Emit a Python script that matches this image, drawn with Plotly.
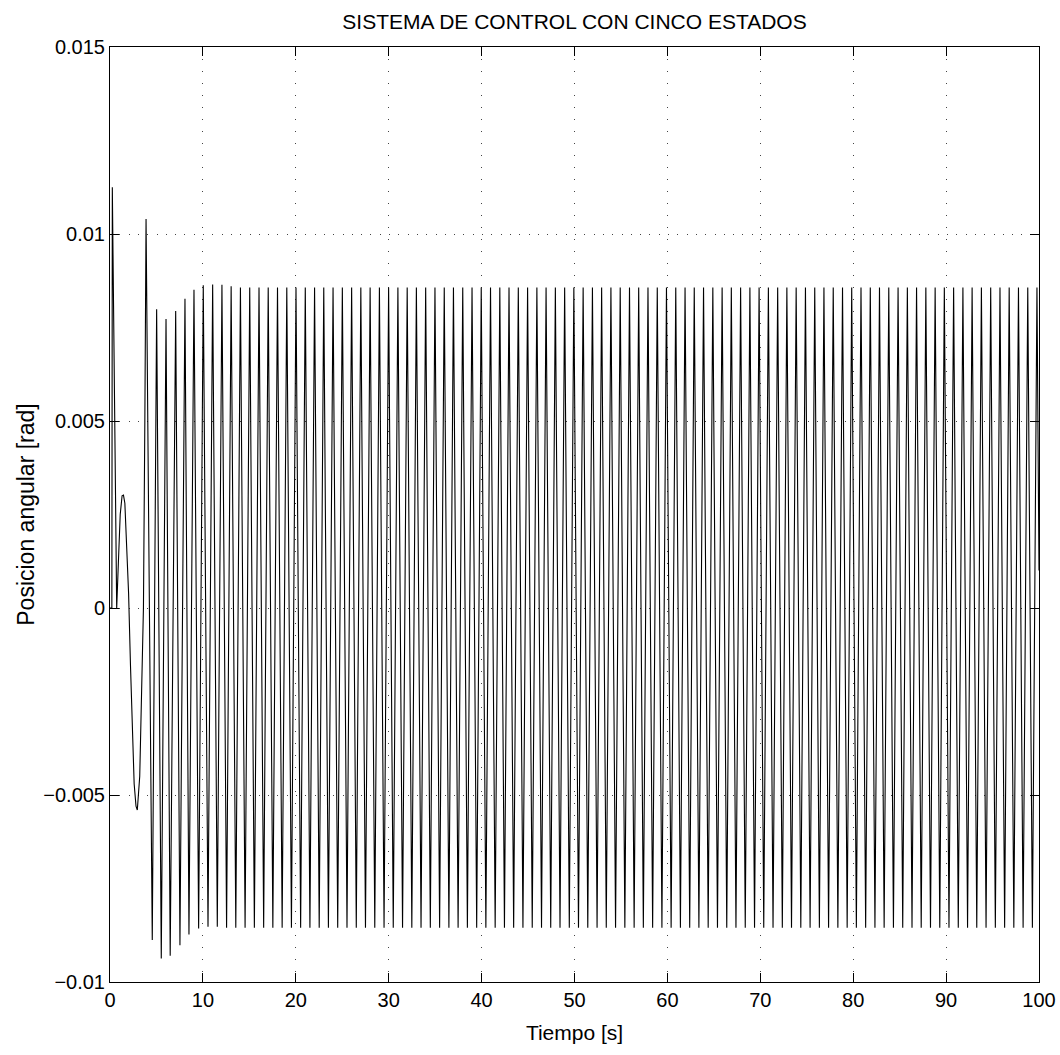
import plotly.graph_objects as go

title_text = "SISTEMA DE CONTROL CON CINCO ESTADOS"
x_label = "Tiempo [s]"
y_label = "Posicion angular [rad]"
x_tick_vals = [0, 10, 20, 30, 40, 50, 60, 70, 80, 90, 100]
y_tick_vals = [-0.01, -0.005, 0, 0.005, 0.01, 0.015]
y_tick_text = ["\u22120.01", "\u22120.005", "0", "0.005", "0.01", "0.015"]

# initial transient
start_t = [0, 0.20, 0.25, 0.72, 0.90, 1.10, 1.30, 1.45, 1.60, 1.80, 2.00, 2.20,
           2.40, 2.60, 2.80, 2.94, 3.20, 3.40, 3.60, 3.75, 3.88]
start_v = [0, 0, 0.01125, 0, 0.0012, 0.0025, 0.0030, 0.00302, 0.0028, 0.0018,
           0.0004, -0.0015, -0.0033, -0.0047, -0.0053, -0.0054, -0.0045,
           -0.0025, 0.0, 0.005, 0.0104]

# settling oscillation extremes
mid_t = [4.55, 5.02, 5.52, 6.03, 6.48, 7.07, 7.53, 8.07, 8.50, 9.04, 9.54, 10.04]
mid_v = [-0.00888, 0.00799, -0.00937, 0.00773, -0.00930, 0.00794, -0.00902,
         0.00827, -0.00873, 0.00851, -0.00857, 0.00863]

# steady-state peaks
peak_t = [11.05, 12.05, 13.04, 14.04, 15.04, 16.04, 17.03, 18.03, 19.03, 20.02,
          21.02, 22.02, 23.01, 24.01, 25.01, 26.01, 27.00, 28.00, 29.00, 29.99,
          30.99, 31.99, 32.98, 33.98, 34.98, 35.98, 36.97, 37.97, 38.97, 39.96,
          40.96, 41.96, 42.95, 43.95, 44.95, 45.95, 46.94, 47.94, 48.94, 49.93,
          50.93, 51.93, 52.92, 53.92, 54.92, 55.92, 56.91, 57.91, 58.91, 59.90,
          60.90, 61.90, 62.89, 63.89, 64.89, 65.89, 66.88, 67.88, 68.88, 69.87,
          70.87, 71.87, 72.86, 73.86, 74.86, 75.86, 76.85, 77.85, 78.85, 79.84,
          80.84, 81.84, 82.83, 83.83, 84.83, 85.83, 86.82, 87.82, 88.82, 89.81,
          90.81, 91.81, 92.80, 93.80, 94.80, 95.80, 96.79, 97.79, 98.79, 99.78]
peak_v = [0.00865, 0.00864, 0.00860, 0.00857, 0.00857, 0.00857, 0.00857, 0.00857, 0.00857, 0.00857,
          0.00857, 0.00857, 0.00857, 0.00857, 0.00857, 0.00857, 0.00857, 0.00857, 0.00857, 0.00857,
          0.00857, 0.00857, 0.00857, 0.00857, 0.00857, 0.00857, 0.00857, 0.00857, 0.00857, 0.00857,
          0.00857, 0.00857, 0.00857, 0.00857, 0.00857, 0.00857, 0.00857, 0.00857, 0.00857, 0.00857,
          0.00857, 0.00857, 0.00857, 0.00857, 0.00857, 0.00857, 0.00857, 0.00857, 0.00857, 0.00857,
          0.00857, 0.00857, 0.00857, 0.00857, 0.00857, 0.00857, 0.00857, 0.00857, 0.00857, 0.00857,
          0.00857, 0.00857, 0.00857, 0.00857, 0.00857, 0.00857, 0.00857, 0.00857, 0.00857, 0.00857,
          0.00857, 0.00857, 0.00857, 0.00857, 0.00857, 0.00857, 0.00857, 0.00857, 0.00857, 0.00857,
          0.00857, 0.00857, 0.00857, 0.00857, 0.00857, 0.00857, 0.00857, 0.00857, 0.00857, 0.00857]

# steady-state troughs
trough_t = [10.55, 11.55, 12.55, 13.54, 14.54, 15.54, 16.54, 17.53, 18.53, 19.53,
            20.52, 21.52, 22.52, 23.51, 24.51, 25.51, 26.51, 27.50, 28.50, 29.50,
            30.49, 31.49, 32.49, 33.48, 34.48, 35.48, 36.48, 37.47, 38.47, 39.47,
            40.46, 41.46, 42.46, 43.45, 44.45, 45.45, 46.45, 47.44, 48.44, 49.44,
            50.43, 51.43, 52.43, 53.42, 54.42, 55.42, 56.42, 57.41, 58.41, 59.41,
            60.40, 61.40, 62.40, 63.39, 64.39, 65.39, 66.39, 67.38, 68.38, 69.38,
            70.37, 71.37, 72.37, 73.36, 74.36, 75.36, 76.36, 77.35, 78.35, 79.35,
            80.34, 81.34, 82.34, 83.33, 84.33, 85.33, 86.33, 87.32, 88.32, 89.32,
            90.31, 91.31, 92.31, 93.30, 94.30, 95.30, 96.30, 97.29, 98.29, 99.29]
trough_v = [-0.00852, -0.00852, -0.00855, -0.00855, -0.00855, -0.00855, -0.00855, -0.00855, -0.00855, -0.00855,
            -0.00855, -0.00855, -0.00855, -0.00855, -0.00855, -0.00855, -0.00855, -0.00855, -0.00855, -0.00855,
            -0.00855, -0.00855, -0.00855, -0.00855, -0.00855, -0.00855, -0.00855, -0.00855, -0.00855, -0.00855,
            -0.00855, -0.00855, -0.00855, -0.00855, -0.00855, -0.00855, -0.00855, -0.00855, -0.00855, -0.00855,
            -0.00855, -0.00855, -0.00855, -0.00855, -0.00855, -0.00855, -0.00855, -0.00855, -0.00855, -0.00855,
            -0.00855, -0.00855, -0.00855, -0.00855, -0.00855, -0.00855, -0.00855, -0.00855, -0.00855, -0.00855,
            -0.00855, -0.00855, -0.00855, -0.00855, -0.00855, -0.00855, -0.00855, -0.00855, -0.00855, -0.00855,
            -0.00855, -0.00855, -0.00855, -0.00855, -0.00855, -0.00855, -0.00855, -0.00855, -0.00855, -0.00855,
            -0.00855, -0.00855, -0.00855, -0.00855, -0.00855, -0.00855, -0.00855, -0.00855, -0.00855, -0.00855]

end_t = [100.0]
end_v = [0.0010]

pts = list(zip(start_t, start_v)) + list(zip(mid_t, mid_v)) + \
      list(zip(peak_t, peak_v)) + list(zip(trough_t, trough_v)) + list(zip(end_t, end_v))
pts.sort(key=lambda p: p[0])
t_all = [p[0] for p in pts]
v_all = [p[1] for p in pts]

FONT = "Liberation Sans, Arial, sans-serif"

fig = go.Figure()
fig.add_trace(go.Scatter(x=t_all, y=v_all, mode="lines",
                         line=dict(color="black", width=1.1),
                         hoverinfo="skip", showlegend=False))

fig.update_layout(
    width=1060, height=1055,
    margin=dict(l=110, r=21, t=47, b=73, autoexpand=False),
    paper_bgcolor="white", plot_bgcolor="white",
    font=dict(family=FONT, size=20, color="black"),
    title=dict(text=title_text, x=0.5, xref="paper", xanchor="center",
               y=1 - 22 / 1055, yref="container", yanchor="middle",
               font=dict(family=FONT, size=21, color="black")),
)
axis_common = dict(showline=True, linecolor="black", linewidth=1, mirror="ticks",
                   ticks="inside", ticklen=9, tickcolor="black", tickwidth=1,
                   showgrid=True, gridcolor="#444", gridwidth=1, zeroline=False,
                   automargin=False, tickfont=dict(family=FONT, size=20))
fig.update_xaxes(range=[0, 100], tickvals=x_tick_vals,
                 ticktext=[str(v) for v in x_tick_vals],
                 griddash="1px,11px",
                 title=dict(text=x_label, standoff=15,
                            font=dict(family=FONT, size=21)),
                 **axis_common)
fig.update_yaxes(range=[-0.01, 0.015], tickvals=y_tick_vals, ticktext=y_tick_text,
                 griddash="1px,8.3px",
                 title=dict(text=y_label, standoff=2,
                            font=dict(family=FONT, size=23)),
                 **axis_common)

fig.write_html("out.html")
